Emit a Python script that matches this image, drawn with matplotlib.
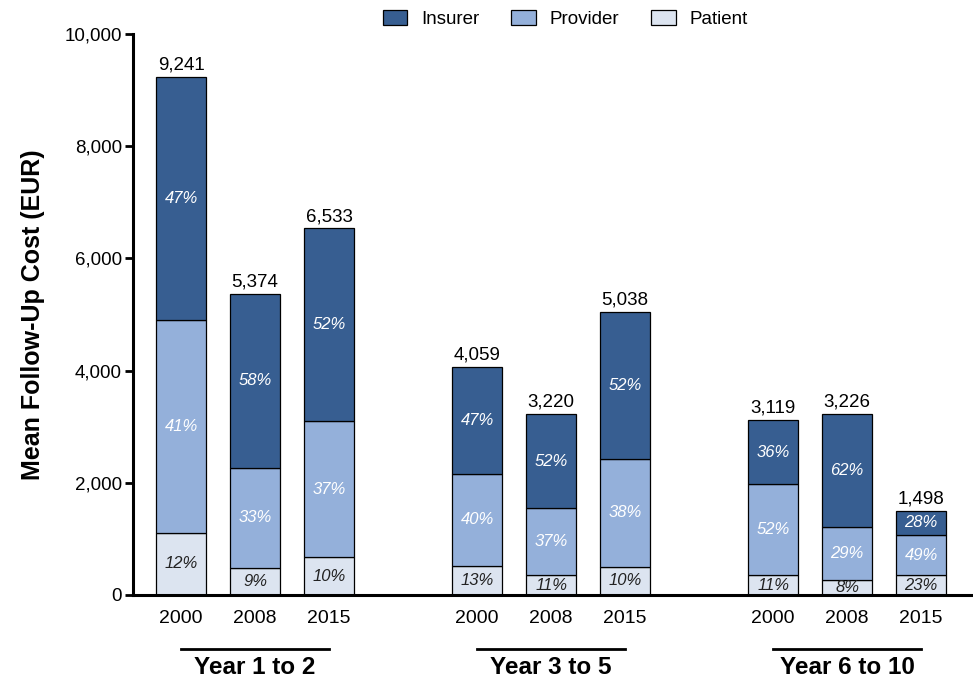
import matplotlib
matplotlib.use("Agg")
import matplotlib.pyplot as plt
import matplotlib.transforms as mtransforms
from matplotlib.ticker import FuncFormatter

plt.rcParams['font.family'] = ['Liberation Sans', 'DejaVu Sans']

years = ["2000", "2008", "2015"] * 3
groups = ["Year 1 to 2", "Year 3 to 5", "Year 6 to 10"]
totals = [9241, 5374, 6533, 4059, 3220, 5038, 3119, 3226, 1498]
patient = [1110, 490, 670, 520, 355, 505, 350, 262, 350]
provider = [3790, 1774, 2430, 1637, 1195, 1919, 1628, 950, 720]
insurer = [t - a - b for t, a, b in zip(totals, patient, provider)]
pct_patient = ["12%", "9%", "10%", "13%", "11%", "10%", "11%", "8%", "23%"]
pct_provider = ["41%", "33%", "37%", "40%", "37%", "38%", "52%", "29%", "49%"]
pct_insurer = ["47%", "58%", "52%", "47%", "52%", "52%", "36%", "62%", "28%"]

c_ins = "#375e91"
c_pro = "#94b0da"
c_pat = "#dce4f0"

x = [0, 1, 2, 4, 5, 6, 8, 9, 10]
w = 0.67

fig = plt.figure(figsize=(9.73, 6.81), dpi=100)
ax = fig.add_axes([0.1367, 0.1263, 0.8633, 0.8238])

b1 = ax.bar(x, patient, w, color=c_pat, edgecolor="black", linewidth=0.9, label="Patient")
b2 = ax.bar(x, provider, w, bottom=patient, color=c_pro, edgecolor="black", linewidth=0.9, label="Provider")
bot3 = [a + b for a, b in zip(patient, provider)]
b3 = ax.bar(x, insurer, w, bottom=bot3, color=c_ins, edgecolor="black", linewidth=0.9, label="Insurer")

for i in range(len(x)):
    ax.text(x[i], patient[i] / 2, pct_patient[i], ha="center", va="center",
            fontsize=12, style="italic", color="#222222")
    ax.text(x[i], patient[i] + provider[i] / 2, pct_provider[i], ha="center", va="center",
            fontsize=12, style="italic", color="white")
    ax.text(x[i], bot3[i] + insurer[i] / 2, pct_insurer[i], ha="center", va="center",
            fontsize=12, style="italic", color="white")
    ax.annotate(f"{totals[i]:,}", (x[i], totals[i]), xytext=(0, 2.5), textcoords="offset points",
                ha="center", va="bottom", fontsize=13.5)

ax.set_xlim(-0.65, 10.7)
ax.set_ylim(0, 10000)
ax.set_yticks(range(0, 10001, 2000))
ax.yaxis.set_major_formatter(FuncFormatter(lambda v, p: f"{int(v):,}"))
ax.set_xticks(x)
ax.set_xticklabels(years)
ax.tick_params(axis="y", direction="out", length=6, width=2, labelsize=13.5, pad=2)
ax.tick_params(axis="x", length=0, labelsize=14, pad=11)
for s in ["top", "right"]:
    ax.spines[s].set_visible(False)
ax.spines["left"].set_linewidth(2.2)
ax.spines["bottom"].set_linewidth(2.2)
ax.set_ylabel("Mean Follow-Up Cost (EUR)", fontsize=18, fontweight="bold", labelpad=14)

trans = mtransforms.blended_transform_factory(ax.transData, fig.transFigure)
for gi, g in enumerate(groups):
    xs = x[gi * 3: gi * 3 + 3]
    ax.plot([xs[0], xs[2]], [1 - 649 / 681, 1 - 649 / 681], color="black", lw=2,
            transform=trans, clip_on=False)
    ax.text(xs[1], 1 - 667 / 681, g, transform=trans, ha="center", va="center",
            fontsize=17.5, fontweight="bold")

handles = [b3, b2, b1]
fig.legend(handles, ["Insurer", "Provider", "Patient"], loc="center", ncol=3,
           bbox_to_anchor=(0.581, 0.972), frameon=False, fontsize=13.5,
           handlelength=1.3, handleheight=0.8, columnspacing=1.7, handletextpad=0.75)

fig.savefig("out.png", dpi=100)
